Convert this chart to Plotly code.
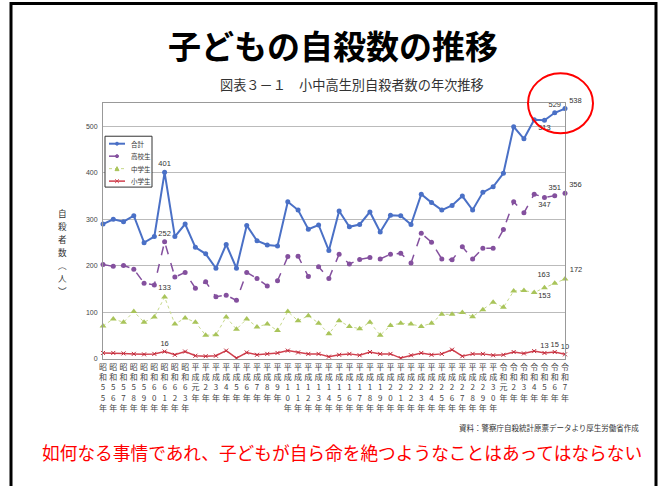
import plotly.graph_objects as go

# ---------------- data ----------------
years = (["昭和55年", "昭和56年", "昭和57年", "昭和58年", "昭和59年", "昭和60年", "昭和61年", "昭和62年", "昭和63年",
          "平成元年"] + [f"平成{i}年" for i in range(2, 31)] + ["令和元年"] + [f"令和{i}年" for i in range(2, 8)])

total = [290, 300, 295, 308, 250, 263, 401, 263, 290, 240,
         226, 195, 246, 195, 287, 254, 245, 243, 338, 320,
         279, 288, 233, 318, 284, 289, 316, 273, 309, 308,
         289, 354, 336, 320, 330, 350, 320, 358, 370, 399,
         499, 473, 514, 513, 529, 538]
high = [203, 199, 201, 193, 163, 159, 252, 176, 186, 152,
        166, 134, 137, 126, 186, 173, 157, 168, 220, 221,
        177, 198, 173, 225, 204, 214, 218, 215, 225, 227,
        206, 270, 251, 215, 213, 241, 215, 238, 238, 278,
        338, 314, 354, 347, 351, 356]
middle = [71, 86, 79, 102, 79, 90, 133, 75, 88, 79,
          51, 52, 90, 64, 86, 69, 75, 61, 102, 82,
          93, 77, 54, 82, 70, 65, 79, 51, 72, 77,
          75, 70, 77, 96, 96, 100, 91, 106, 122, 111,
          146, 147, 143, 153, 163, 172]
elem = [13, 13, 12, 11, 10, 11, 16, 9, 16, 7,
        6, 7, 18, 2, 14, 9, 11, 13, 18, 14,
        11, 11, 5, 9, 11, 8, 15, 11, 11, 2,
        8, 13, 9, 11, 20, 6, 11, 11, 8, 9,
        15, 12, 17, 13, 15, 10]

series_names = ["合計", "高校生", "中学生", "小学生"]
y_ticks = [0, 100, 200, 300, 400, 500]
y_title = "自殺者数︵人︶"

# which points carry value labels and where
label_pos = {
    "合計": {6: "top center", 43: "bottom center", 44: "top center", 45: "top right"},
    "高校生": {6: "top center", 43: "bottom center", 44: "top center", 45: "top right"},
    "中学生": {6: "top center", 43: "bottom center", 44: "top left", 45: "top right"},
    "小学生": {6: "top center", 43: "top center", 44: "top center", 45: "top center"},
}


def tick_text(lbl):
    era, rest = lbl[:2], lbl[2:-1]
    return "<br>".join(list(era) + list(rest) + ["年"])


x = list(range(len(years)))
ticktext = [tick_text(y) for y in years]

# ---------------- geometry helpers ----------------
W, H = 666, 486
PL, PR, PT, PB = 103, 565, 102.7, 359.3
YMAX = 550


def px(xp):
    return (xp - PL) / (PR - PL)


def py(yp):
    return (PB - yp) / (PB - PT)


colors = {"合計": "#4A70C6", "高校生": "#84509E", "中学生": "#A9C45A", "小学生": "#D0404E"}
styles = {
    "合計": dict(line=dict(color=colors["合計"], width=2), marker=dict(symbol="circle", size=5, color=colors["合計"])),
    "高校生": dict(line=dict(color=colors["高校生"], width=1.5, dash="dash"), marker=dict(symbol="circle", size=5, color=colors["高校生"])),
    "中学生": dict(line=dict(color="#C6D98A", width=1, dash="dot"), marker=dict(symbol="triangle-up", size=6, color=colors["中学生"])),
    "小学生": dict(line=dict(color=colors["小学生"], width=1.5), marker=dict(symbol="x-thin", size=4, color="#C02838", line=dict(width=1, color="#C02838"))),
}

fig = go.Figure()
for name, vals in zip(series_names, [total, high, middle, elem]):
    pos = label_pos[name]
    texts = [str(v) if i in pos else "" for i, v in enumerate(vals)]
    tpos = [pos.get(i, "top center") for i in range(len(vals))]
    fig.add_trace(go.Scatter(
        x=x, y=vals, name=name, mode="lines+markers+text",
        text=texts, textposition=tpos,
        textfont=dict(size=7.5, color="#333333", family="Liberation Sans, Arial"),
        cliponaxis=False, showlegend=False, **styles[name]))

fig.update_layout(
    width=W, height=H,
    margin=dict(l=PL, r=W - PR, t=PT, b=H - PB, autoexpand=False),
    paper_bgcolor="white", plot_bgcolor="white",
    font=dict(family="Noto Sans CJK JP", color="#333333"),
    showlegend=False,
)
fig.update_xaxes(range=[0, len(years) - 1], tickmode="array", tickvals=x, ticktext=ticktext,
                 tickangle=0, tickfont=dict(size=8, color="#444444", family="Noto Sans CJK JP"),
                 showgrid=False, showline=True, linecolor="#999999", linewidth=1, mirror=True,
                 ticks="", ticklen=0, zeroline=False)
fig.update_yaxes(range=[0, YMAX], tickmode="array", tickvals=y_ticks,
                 tickfont=dict(size=7, color="#444444", family="Liberation Sans, Arial"),
                 showgrid=True, gridcolor="#BBBBBB", gridwidth=1,
                 showline=True, linecolor="#999999", linewidth=1, mirror=True,
                 ticks="", ticklen=0, zeroline=False, ticklabelstandoff=3)

# ---------------- compact legend (box, samples, labels) ----------------
LX0, LX1, LY0, LY1 = 105, 152, 136, 187
fig.add_shape(type="rect", xref="paper", yref="paper", x0=px(LX0), x1=px(LX1), y0=py(LY1), y1=py(LY0),
              line=dict(color="#333333", width=1), fillcolor="white", layer="above")
for k, name in enumerate(series_names):
    ly = 143.5 + k * 12.5
    st = styles[name]
    fig.add_shape(type="line", xref="paper", yref="paper", x0=px(109), x1=px(125), y0=py(ly), y1=py(ly),
                  line=dict(color=st["line"]["color"], width=st["line"]["width"], dash=st["line"].get("dash", "solid")),
                  layer="above")
    c = colors[name]
    if name in ("合計", "高校生"):
        fig.add_shape(type="circle", xref="paper", yref="paper", x0=px(115.5), x1=px(118.5), y0=py(ly + 1.5),
                      y1=py(ly - 1.5), line=dict(color=c, width=1), fillcolor=c, layer="above")
    elif name == "中学生":
        fig.add_shape(type="path", xref="paper", yref="paper",
                      path=f"M {px(115)},{py(ly + 2)} L {px(119)},{py(ly + 2)} L {px(117)},{py(ly - 2)} Z",
                      line=dict(color=c, width=1), fillcolor=c, layer="above")
    else:
        for a, b in ((-1.8, 1.8), (1.8, -1.8)):
            fig.add_shape(type="line", xref="paper", yref="paper", x0=px(117 + a), x1=px(117 + b),
                          y0=py(ly - 1.8), y1=py(ly + 1.8), line=dict(color=c, width=1), layer="above")
    fig.add_annotation(text=name, xref="paper", yref="paper", x=px(129), y=py(ly), xanchor="left",
                       yanchor="middle", showarrow=False, font=dict(size=6.5, color="#333333"))

# ---------------- decorations ----------------
fig.add_shape(type="rect", xref="paper", yref="paper", x0=px(11), x1=px(656), y0=py(3), y1=py(492),
              line=dict(color="black", width=3), layer="above")
fig.add_shape(type="circle", xref="paper", yref="paper", x0=px(528), x1=px(593), y0=py(133), y1=py(73),
              line=dict(color="#FF0000", width=2), layer="above")

fig.add_annotation(text="<b>子どもの自殺数の推移</b>", xref="paper", yref="paper", x=px(333), y=py(45),
                   xanchor="center", yanchor="middle",
                   showarrow=False, font=dict(size=33, color="black", family="Noto Sans CJK JP"))
fig.add_annotation(text="図表３－１　小中高生別自殺者数の年次推移", xref="paper", yref="paper", x=px(352), y=py(84),
                   xanchor="center", yanchor="middle",
                   showarrow=False, font=dict(size=13.2, color="#333333", family="Noto Sans CJK JP"))
# vertical axis title, one character per row
for k, ch in enumerate(y_title):
    fig.add_annotation(text=ch, xref="paper", yref="paper", x=px(62), y=py(213 + k * 13),
                       xanchor="center", yanchor="middle", showarrow=False,
                       font=dict(size=8.6, color="#333333", family="Noto Sans CJK JP"))
fig.add_annotation(text="資料：警察庁自殺統計原票データより厚生労働省作成", xref="paper", yref="paper",
                   x=px(641), y=py(428), xanchor="right", yanchor="middle", showarrow=False,
                   font=dict(size=7.5, color="#333333", family="Noto Sans CJK JP"))
fig.add_annotation(text="如何なる事情であれ、子どもが自ら命を絶つようなことはあってはならない", xref="paper", yref="paper",
                   x=px(341.5), y=py(453), xanchor="center", yanchor="middle", showarrow=False,
                   font=dict(size=17.7, color="#FF0000", family="Noto Sans CJK JP"))

fig.write_html("out.html", config={"displayModeBar": False},
               post_script="document.body.style.margin='0';")
